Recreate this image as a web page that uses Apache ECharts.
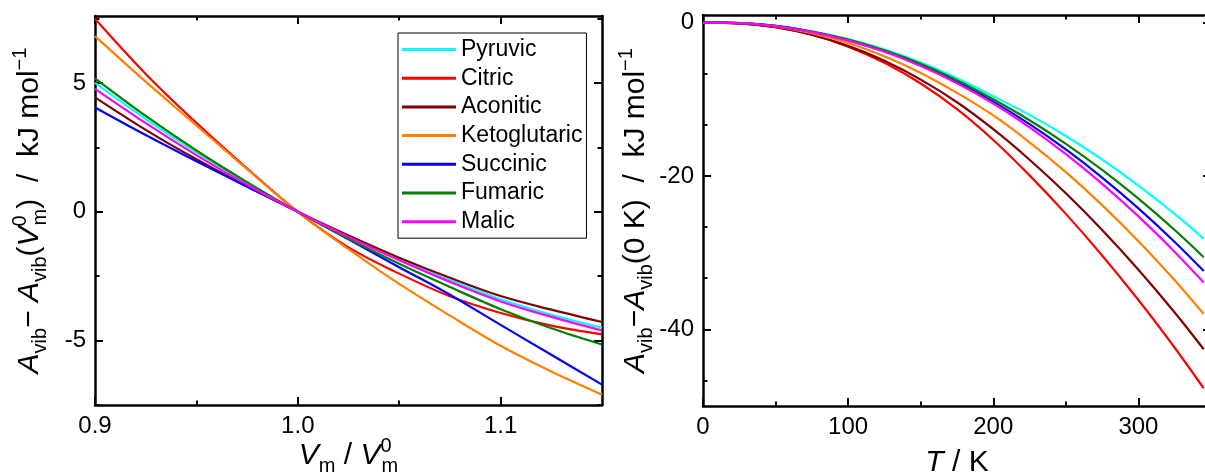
<!DOCTYPE html>
<html>
<head>
<meta charset="utf-8">
<script src="https://cdn.jsdelivr.net/npm/echarts@6/dist/echarts.min.js"></script>
<style>
html,body{margin:0;padding:0;background:#fff;}
#chart{width:1205px;height:475px;}
</style>
</head>
<body>
<div id="chart"></div>
<script>
// ---------- data ----------
const seriesNames = ['Pyruvic', 'Citric', 'Aconitic', 'Ketoglutaric', 'Succinic', 'Fumaric', 'Malic'];
const seriesColors = ['#00FFFF', '#FF0000', '#800000', '#FF8000', '#0000FF', '#008000', '#FF00FF'];

// left panel: V_m / V_m^0
const volumeRatio = [0.9, 0.925, 0.95, 0.975, 1.0, 1.025, 1.05, 1.075, 1.1, 1.125, 1.15];
const pyruvicV      = [5.00, 3.60, 2.32, 1.12, 0, -0.96, -1.85, -2.66, -3.40, -4.00, -4.50];
const citricV       = [7.49, 5.35, 3.45, 1.68, 0, -1.38, -2.40, -3.28, -3.93, -4.42, -4.76];
const aconiticV     = [4.44, 3.18, 2.04, 0.99, 0, -0.92, -1.78, -2.56, -3.27, -3.80, -4.28];
const ketoglutaricV = [6.82, 5.05, 3.35, 1.65, 0, -1.45, -2.80, -4.03, -5.20, -6.20, -7.10];
const succinicV     = [4.05, 2.98, 1.96, 0.97, 0, -1.07, -2.15, -3.22, -4.39, -5.55, -6.71];
const fumaricV      = [5.18, 3.72, 2.38, 1.15, 0, -1.05, -2.02, -2.92, -3.78, -4.52, -5.15];
const malicV        = [4.77, 3.44, 2.20, 1.05, 0, -0.98, -1.88, -2.72, -3.48, -4.08, -4.61];

// right panel: T / K
const temperature = [0, 25, 50, 75, 100, 125, 150, 175, 200, 225, 250, 275, 300, 325, 345];
const pyruvicT      = [0, -0.05, -0.40, -1.12, -2.15, -3.50, -5.20, -7.25, -9.60, -12.03, -14.78, -17.85, -21.24, -24.95, -28.2];
const citricT       = [0, -0.08, -0.58, -1.58, -3.13, -5.23, -7.93, -11.28, -15.3, -19.92, -24.94, -30.36, -36.18, -42.40, -47.7];
const aconiticT     = [0, -0.08, -0.58, -1.58, -3.03, -4.98, -7.43, -10.38, -13.9, -17.88, -22.26, -27.04, -32.22, -37.80, -42.6];
const ketoglutaricT = [0, -0.06, -0.48, -1.36, -2.66, -4.39, -6.56, -9.16, -12.1, -15.60, -19.50, -23.80, -28.50, -33.60, -38.0];
const succinicT     = [0, -0.05, -0.43, -1.19, -2.28, -3.70, -5.50, -7.70, -10.3, -13.24, -16.54, -20.20, -24.22, -28.60, -32.4];
const fumaricT      = [0, -0.05, -0.42, -1.17, -2.20, -3.60, -5.35, -7.50, -10.0, -12.73, -15.80, -19.21, -22.96, -27.05, -30.6];
const malicT        = [0, -0.05, -0.45, -1.23, -2.35, -3.80, -5.65, -7.90, -10.55, -13.66, -17.15, -21.02, -25.27, -29.90, -33.9];

// tick values
const leftXMajor = [0.9, 1.0, 1.1];
const leftXMinor = [0.95, 1.05];
const leftYMajor = [-5, 0, 5];
const leftYMinor = [-7.5, -2.5, 2.5, 7.5];
const rightXMajor = [0, 100, 200, 300];
const rightXMinor = [50, 150, 250, 350];
const rightYMajor = [-40, -20, 0];
const rightYMinor = [-46.667, -33.333, -26.667, -13.333, -6.667];

// ---------- build ----------
const FONT = '"Liberation Sans", Arial, sans-serif';
const leftValues = [pyruvicV, citricV, aconiticV, ketoglutaricV, succinicV, fumaricV, malicV];
const rightValues = [pyruvicT, citricT, aconiticT, ketoglutaricT, succinicT, fumaricT, malicT];

const TF = 30, SF = 20, LH = 40;
const rich = {
  i: {fontFamily: FONT, fontSize: TF, fontStyle: 'italic', color: '#000', lineHeight: LH, align: 'left'},
  n: {fontFamily: FONT, fontSize: TF, color: '#000', lineHeight: LH, align: 'left'},
  s: {fontFamily: FONT, fontSize: SF, color: '#000', verticalAlign: 'bottom', lineHeight: SF, align: 'left'},
  p: {fontFamily: FONT, fontSize: SF, color: '#000', verticalAlign: 'top', lineHeight: SF, align: 'left'},
  p0: {fontFamily: FONT, fontSize: SF, color: '#000', verticalAlign: 'top', lineHeight: SF, width: 1, align: 'left'}
};

function axis(dim, grid, cfg) {
  const a = {
    type: 'value', gridIndex: grid, min: cfg.min, max: cfg.max, position: cfg.position,
    splitLine: {show: false},
    axisLine: {show: !!cfg.line, onZero: false, lineStyle: {color: '#000', width: 2.5}},
    axisTick: {show: true, inside: true, customValues: cfg.ticks, length: cfg.minor ? 4.5 : 8,
               lineStyle: {color: '#000', width: 2}},
    axisLabel: {show: !!cfg.labels},
    silent: true
  };
  if (cfg.labels) {
    a.axisLabel = {show: true, customValues: cfg.labels, color: '#000', fontSize: 24, fontFamily: FONT,
                   margin: 9, formatter: cfg.fmt || (v => String(v))};
  }
  if (cfg.name) {
    a.name = cfg.name; a.nameLocation = 'middle'; a.nameGap = cfg.nameGap;
    a.nameMoveOverlap = false;
    a.nameRotate = dim === 'y' ? 90 : 0;
    a.nameTextStyle = {rich: rich, fontFamily: FONT, fontSize: TF, color: '#000'};
  }
  return a;
}

const xAxes = [
  axis('x', 0, {min: 0.9, max: 1.15, position: 'bottom', line: true, ticks: leftXMajor, labels: leftXMajor,
    fmt: v => v.toFixed(1), name: '{i|V}{s|m}{n| / }{i|V}{p0|0}{s|m}', nameGap: 31}),
  axis('x', 0, {min: 0.9, max: 1.15, position: 'bottom', ticks: leftXMinor, minor: true}),
  axis('x', 0, {min: 0.9, max: 1.15, position: 'top', line: true, ticks: leftXMajor}),
  axis('x', 0, {min: 0.9, max: 1.15, position: 'top', ticks: leftXMinor, minor: true}),
  axis('x', 1, {min: 0, max: 350, position: 'bottom', line: true, ticks: rightXMajor, labels: rightXMajor,
    name: '{i|T}{n| / K}', nameGap: 37}),
  axis('x', 1, {min: 0, max: 350, position: 'bottom', ticks: rightXMinor, minor: true}),
  axis('x', 1, {min: 0, max: 350, position: 'top', line: true, ticks: rightXMajor}),
  axis('x', 1, {min: 0, max: 350, position: 'top', ticks: rightXMinor, minor: true})
];
const yAxes = [
  axis('y', 0, {min: -7.5, max: 7.6, position: 'left', line: true, ticks: leftYMajor, labels: leftYMajor,
    name: '{i|A}{s|vib}{n|− }{i|A}{s|vib}{n|(}{i|V}{p0|0}{s|m}{n|)  /  kJ mol}{p|−1}', nameGap: 45}),
  axis('y', 0, {min: -7.5, max: 7.6, position: 'left', ticks: leftYMinor, minor: true}),
  axis('y', 0, {min: -7.5, max: 7.6, position: 'right', line: true, ticks: leftYMajor}),
  axis('y', 0, {min: -7.5, max: 7.6, position: 'right', ticks: leftYMinor, minor: true}),
  axis('y', 1, {min: -50, max: 1, position: 'left', line: true, ticks: rightYMajor, labels: rightYMajor,
    name: '{i|A}{s|vib}{n|−}{i|A}{s|vib}{n|(0 K)  /  kJ mol}{p|−1}', nameGap: 47}),
  axis('y', 1, {min: -50, max: 1, position: 'left', ticks: rightYMinor, minor: true}),
  axis('y', 1, {min: -50, max: 1, position: 'right', line: true, ticks: rightYMajor}),
  axis('y', 1, {min: -50, max: 1, position: 'right', ticks: rightYMinor, minor: true})
];

const series = [];
seriesNames.forEach((name, k) => {
  series.push({
    name: name, type: 'line', xAxisIndex: 0, yAxisIndex: 0, showSymbol: false, smooth: 0.35,
    lineStyle: {color: seriesColors[k], width: 2.2}, itemStyle: {color: seriesColors[k]},
    data: volumeRatio.map((x, j) => [x, leftValues[k][j]]), animation: false, z: 2
  });
});
seriesNames.forEach((name, k) => {
  series.push({
    name: name, type: 'line', xAxisIndex: 4, yAxisIndex: 4, showSymbol: false, smooth: 0.35,
    lineStyle: {color: seriesColors[k], width: 2.2}, itemStyle: {color: seriesColors[k]},
    data: temperature.map((x, j) => [x, rightValues[k][j]]), animation: false, z: 2
  });
});

const chart = echarts.init(document.getElementById('chart'), null, {renderer: 'canvas'});
chart.setOption({
  animation: false,
  backgroundColor: '#fff',
  textStyle: {fontFamily: FONT},
  grid: [
    {left: 95, top: 16, width: 507, height: 389, outerBoundsMode: 'none', containLabel: false},
    {left: 703, top: 15, width: 508, height: 391, outerBoundsMode: 'none', containLabel: false}
  ],
  legend: {
    data: seriesNames, orient: 'vertical', left: 398, top: 33,
    padding: [5, 4, 5, 4], itemGap: 5.7, itemWidth: 54, itemHeight: 3, icon: 'rect',
    borderColor: '#000', borderWidth: 1, backgroundColor: '#fff',
    textStyle: {fontSize: 23, fontFamily: FONT, color: '#000', lineHeight: 23},
    selectedMode: false
  },
  xAxis: xAxes,
  yAxis: yAxes,
  series: series
});
</script>
</body>
</html>
